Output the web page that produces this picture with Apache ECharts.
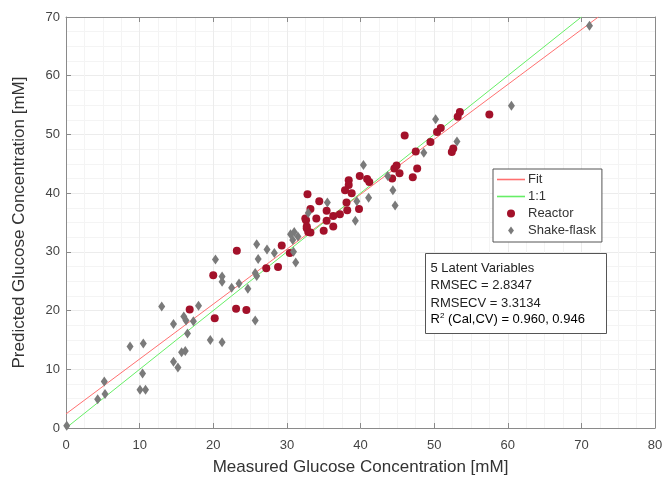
<!DOCTYPE html>
<html>
<head>
<meta charset="utf-8">
<script src="https://cdn.jsdelivr.net/npm/echarts@6/dist/echarts.min.js"></script>
<style>
  html, body { margin: 0; padding: 0; background: #fff; }
  #chart { width: 669px; height: 479px; }
</style>
</head>
<body>
<div id="chart"></div>
<script>
// measured vs predicted glucose [mM]
const reactor = [
  [16.8, 20.2], [20.2, 18.7], [23.1, 20.3], [24.5, 20.1], [20.0, 26.0], [23.2, 30.2],
  [27.2, 27.2], [28.8, 27.4], [29.3, 31.1], [30.4, 29.8],
  [32.6, 35.4], [32.7, 34.3], [32.9, 33.4], [32.8, 39.8], [34.4, 38.6], [33.2, 37.3],
  [32.5, 35.7], [34.0, 35.7], [35.4, 37.0], [35.4, 35.3], [36.3, 36.1], [37.2, 36.4],
  [36.3, 34.3], [35.0, 33.6], [32.7, 34.0], [33.2, 33.3], [38.1, 38.4], [38.2, 37.1],
  [39.8, 37.3], [38.8, 40.0], [37.9, 40.5], [38.4, 42.2], [38.4, 41.4], [39.9, 42.9],
  [40.9, 42.4], [41.2, 41.9], [44.3, 42.5], [44.6, 44.2], [44.9, 44.7], [45.3, 43.4],
  [47.1, 42.7], [47.7, 44.2], [47.5, 47.1], [46.0, 49.8], [49.5, 48.7], [50.4, 50.4],
  [50.9, 51.1], [53.2, 53.0], [53.5, 53.8], [52.6, 47.6], [52.4, 47.0], [57.5, 53.4]
];
const shakeFlask = [
  [0.1, 0.4], [4.3, 4.9], [5.2, 7.9], [5.3, 5.8], [8.7, 13.9], [10.5, 14.4], [10.4, 9.3],
  [10.05, 6.5], [10.8, 6.5], [13.0, 20.7], [14.6, 17.7], [14.6, 11.3], [15.2, 10.3],
  [15.7, 12.9], [16.2, 13.1], [16.0, 19.0], [16.3, 18.3], [17.3, 18.2], [16.5, 16.1],
  [18.0, 20.8], [19.6, 15.0], [21.2, 14.6], [25.7, 18.3], [20.3, 28.7], [21.2, 25.8],
  [21.2, 24.9], [22.5, 23.9], [23.5, 24.6], [24.7, 23.7], [25.7, 26.4], [25.9, 25.9],
  [25.9, 31.3], [27.3, 30.4], [26.1, 28.8], [28.3, 29.8], [30.9, 30.0], [31.2, 28.2],
  [30.5, 33.0], [31.0, 33.4], [31.5, 32.6], [30.8, 32.0], [32.9, 36.6], [35.5, 38.4],
  [39.5, 38.6], [39.3, 35.3], [40.4, 44.8], [41.1, 39.2], [43.7, 42.9], [44.4, 40.5],
  [44.7, 37.9], [48.6, 46.9], [50.2, 52.6], [53.1, 48.8], [60.5, 54.9], [71.1, 68.5]
];
const fitLine = [[0, 2.4], [72.3, 70]];
const oneToOne = [[0, 0], [70, 70]];
const statsLines = ['5 Latent Variables', 'RMSEC = 2.8347', 'RMSECV = 3.3134'];

const font = '"Liberation Sans", Arial, sans-serif';
const frame = '#8a8a8a';
const lineIcon = 'path://M0,0h28v1.6h-28z';
const diamondIcon = 'path://M4,0L8,5.5L4,11L0,5.5Z';

const chartObj = echarts.init(document.getElementById('chart'));
const axisCommon = {
  min: 0,
  interval: 10,
  axisLine: { show: true, onZero: false, lineStyle: { color: frame, width: 1 } },
  axisTick: { show: true, inside: true, length: 5, lineStyle: { color: frame } },
  axisLabel: { color: '#444', fontSize: 13, fontFamily: font },
  splitLine: { show: true, lineStyle: { color: '#ececec', width: 1 } },
  minorTick: { show: false, splitNumber: 4 },
  minorSplitLine: { show: true, lineStyle: { color: '#f4f4f4', width: 1 } }
};
let option = {
  animation: false,
  textStyle: { fontFamily: font },
  grid: { left: 66, right: 14, top: 17, bottom: 51, containLabel: false, outerBoundsMode: 'none' },
  xAxis: [
    Object.assign({}, axisCommon, {
      type: 'value', max: 80, position: 'bottom',
      name: 'Measured Glucose Concentration [mM]',
      nameLocation: 'middle', nameGap: 31,
      nameTextStyle: { color: '#333', fontSize: 17, fontFamily: font },
      axisLabel: Object.assign({}, axisCommon.axisLabel, { margin: 11 })
    }),
    Object.assign({}, axisCommon, {
      type: 'value', max: 80, position: 'top',
      axisLabel: { show: false }, splitLine: { show: false }, minorSplitLine: { show: false }
    })
  ],
  yAxis: [
    Object.assign({}, axisCommon, {
      type: 'value', max: 70, position: 'left',
      name: 'Predicted Glucose Concentration [mM]',
      nameLocation: 'middle', nameGap: 38,
      nameTextStyle: { color: '#333', fontSize: 17, fontFamily: font },
      axisLabel: Object.assign({}, axisCommon.axisLabel, { margin: 6 })
    }),
    Object.assign({}, axisCommon, {
      type: 'value', max: 70, position: 'right',
      axisLabel: { show: false }, splitLine: { show: false }, minorSplitLine: { show: false }
    })
  ],
  legend: {
    orient: 'vertical',
    left: 493, top: 169,
    padding: [4, 6, 5, 4],
    itemWidth: 28, itemHeight: 8, itemGap: 4,
    backgroundColor: '#fff',
    borderColor: '#555', borderWidth: 1, borderRadius: 0,
    z: 20,
    textStyle: { color: '#333', fontSize: 13, fontFamily: font, padding: [0, 0, 0, -2] },
    data: [
      { name: 'Fit', icon: lineIcon },
      { name: '1:1', icon: lineIcon },
      { name: 'Reactor', icon: 'circle', itemStyle: { borderWidth: 0 } },
      { name: 'Shake-flask', icon: diamondIcon }
    ]
  },
  graphic: [{
    type: 'group',
    left: 425, top: 253,
    z: 50,
    children: [
      { type: 'rect', z: 50, shape: { x: 0, y: 0, width: 181, height: 80 },
        style: { fill: '#fff', stroke: '#555', lineWidth: 1 } },
      { type: 'text', z: 51, x: 5, y: 6,
        style: { text: statsLines.join('\n'), fontSize: 13, fontFamily: font, fill: '#222', lineHeight: 17.5 } },
      { type: 'text', z: 51, x: 5, y: 58,
        style: {
          text: '{b|R}{s|2}{b| (Cal,CV) = 0.960, 0.946}',
          rich: {
            b: { fontSize: 13, fontFamily: font, color: '#222' },
            s: { fontSize: 8, fontFamily: font, color: '#222', verticalAlign: 'top', padding: [0, 0, 7, 0] }
          }
        } }
    ]
  }],
  series: [
    {
      name: 'Fit', type: 'line', data: fitLine, symbol: 'none', silent: true,
      lineStyle: { color: '#ff7070', width: 1 }, itemStyle: { color: '#ff7070' }, z: 3
    },
    {
      name: '1:1', type: 'line', data: oneToOne, symbol: 'none', silent: true,
      lineStyle: { color: '#66ee66', width: 1 }, itemStyle: { color: '#66ee66' }, z: 3
    },
    {
      name: 'Reactor', type: 'scatter', data: reactor, symbol: 'circle', symbolSize: 8,
      itemStyle: { color: '#a3112a', opacity: 1 }, z: 4
    },
    {
      name: 'Shake-flask', type: 'scatter', data: shakeFlask, symbol: 'diamond', symbolSize: [7, 10],
      itemStyle: { color: '#7a7a7a', opacity: 1 }, z: 4
    }
  ]
};
chartObj.setOption(option);
window.addEventListener('resize', function () { chartObj.resize(); });
</script>
</body>
</html>
